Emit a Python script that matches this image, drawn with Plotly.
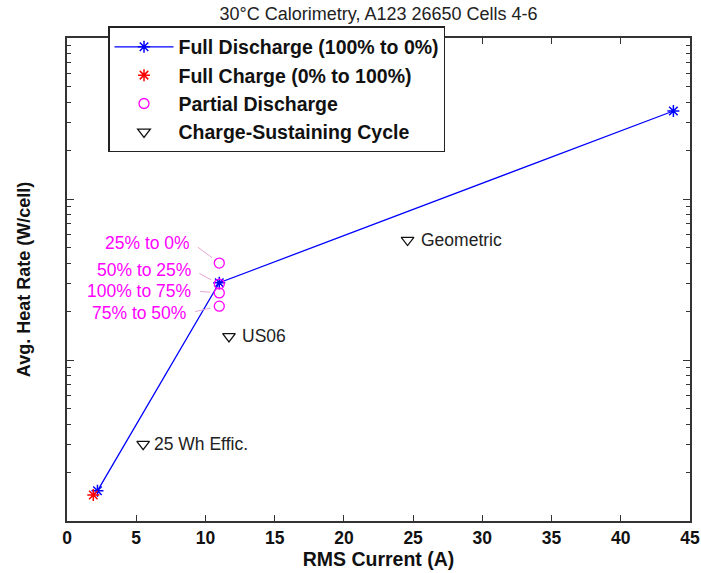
import math
import plotly.graph_objects as go

# ---- data ----
full_dis_x = [2.2, 11.0, 43.8]
full_dis_y = [0.0154, 0.302, 3.52]

full_chg_x = [1.9]
full_chg_y = [0.0145]

partial_x = [11.0, 11.0, 11.0, 11.0]
partial_y = [0.40, 0.296, 0.261, 0.216]
partial_labels = ["25% to 0%", "50% to 25%", "100% to 75%", "75% to 50%"]

cs_x = [5.5, 11.7, 24.6]
cs_y = [0.030, 0.140, 0.556]
cs_labels = ["25 Wh Effic.", "US06", "Geometric"]

x_ticks = [0, 5, 10, 15, 20, 25, 30, 35, 40, 45]

FONT = "Liberation Sans, Arial, sans-serif"
FRAME = "#333333"

fig = go.Figure()
fig.add_trace(go.Scatter(
    x=full_dis_x, y=full_dis_y, mode="lines+markers",
    name="Full Discharge (100% to 0%)",
    line=dict(color="#0000FF", width=1.3),
    marker=dict(symbol="asterisk-open", size=10, color="#0000FF",
                line=dict(color="#0000FF", width=1.5)),
    legendgroup="a"))
fig.add_trace(go.Scatter(
    x=full_chg_x, y=full_chg_y, mode="markers",
    name="Full Charge (0% to 100%)",
    marker=dict(symbol="asterisk-open", size=10, color="#FF0000",
                line=dict(color="#FF0000", width=1.5)),
    legendgroup="b"))
fig.add_trace(go.Scatter(
    x=partial_x, y=partial_y, mode="markers",
    name="Partial Discharge",
    marker=dict(symbol="circle-open", size=10, color="#FF00FF",
                line=dict(color="#FF00FF", width=1.3)),
    legendgroup="c"))
fig.add_trace(go.Scatter(
    x=cs_x, y=cs_y, mode="markers",
    name="Charge-Sustaining Cycle",
    marker=dict(symbol="triangle-down-open", size=11, color="#111111",
                line=dict(color="#111111", width=1.3)),
    legendgroup="d"))

# partial discharge labels with leader lines (pixel offsets = styling)
leader_offsets = [(-27, -20), (-26, -14), (-26, -2), (-31, 7)]
for xv, yv, lab, (ax, ay) in zip(partial_x, partial_y, partial_labels, leader_offsets):
    fig.add_annotation(
        x=xv, y=math.log10(yv), xref="x", yref="y", text=lab,
        showarrow=True, arrowhead=0, arrowwidth=1, arrowcolor="#E6A6D2",
        ax=ax, ay=ay, axref="pixel", ayref="pixel",
        xanchor="right", yanchor="middle",
        standoff=9, startstandoff=7,
        font=dict(family=FONT, size=17.5, color="#FF00FF"))

# charge-sustaining labels
shifts = [9, 11, 11]
for xv, yv, lab, sh in zip(cs_x, cs_y, cs_labels, shifts):
    fig.add_annotation(
        x=xv, y=math.log10(yv), xref="x", yref="y", text=lab, showarrow=False,
        xanchor="left", yanchor="middle", xshift=sh,
        font=dict(family=FONT, size=17.5, color="#222222"))

fig.update_layout(
    width=701, height=573, autosize=False,
    margin=dict(l=67, r=11, t=38, b=52, autoexpand=False),
    paper_bgcolor="white", plot_bgcolor="white",
    font=dict(family=FONT, color="#111111"),
    title=dict(text="30°C Calorimetry, A123 26650 Cells 4-6",
               x=0.5, xref="paper", xanchor="center",
               y=1 - 14 / 573, yref="container", yanchor="middle",
               font=dict(family=FONT, size=18, color="#222222")),
    showlegend=True,
    legend=dict(x=0.0663, y=1.024, xanchor="left", yanchor="top",
                xref="paper", yref="paper",
                bgcolor="white", bordercolor="#222222", borderwidth=1.2,
                font=dict(family=FONT, size=19.5, color="#111111", weight="bold"),
                traceorder="grouped", tracegroupgap=0, itemwidth=59),
    xaxis=dict(range=[0, 45], tickvals=x_ticks, ticktext=[str(t) for t in x_ticks],
               ticks="inside", ticklen=6, tickwidth=1.2, tickcolor=FRAME,
               showline=True, linecolor=FRAME, linewidth=1.5, mirror="ticks",
               showgrid=False, zeroline=False, automargin=False,
               tickfont=dict(family=FONT, size=17.5, color="#111111", weight="bold"),
               title=dict(text="RMS Current (A)", standoff=4,
                          font=dict(family=FONT, size=19.5, color="#111111", weight="bold"))),
    yaxis=dict(type="log", range=[-2, 1], dtick=1,
               ticks="inside", ticklen=7, tickwidth=1.2, tickcolor=FRAME,
               showticklabels=False, automargin=False,
               minor=dict(ticks="inside", ticklen=4, tickwidth=1.2, tickcolor=FRAME,
                          dtick="D1", showgrid=False),
               showline=True, linecolor=FRAME, linewidth=1.5, mirror="ticks",
               showgrid=False, zeroline=False,
               title=dict(text="Avg. Heat Rate (W/cell)", standoff=30,
                          font=dict(family=FONT, size=18, color="#111111", weight="bold"))),
)

fig.write_html("out.html")
